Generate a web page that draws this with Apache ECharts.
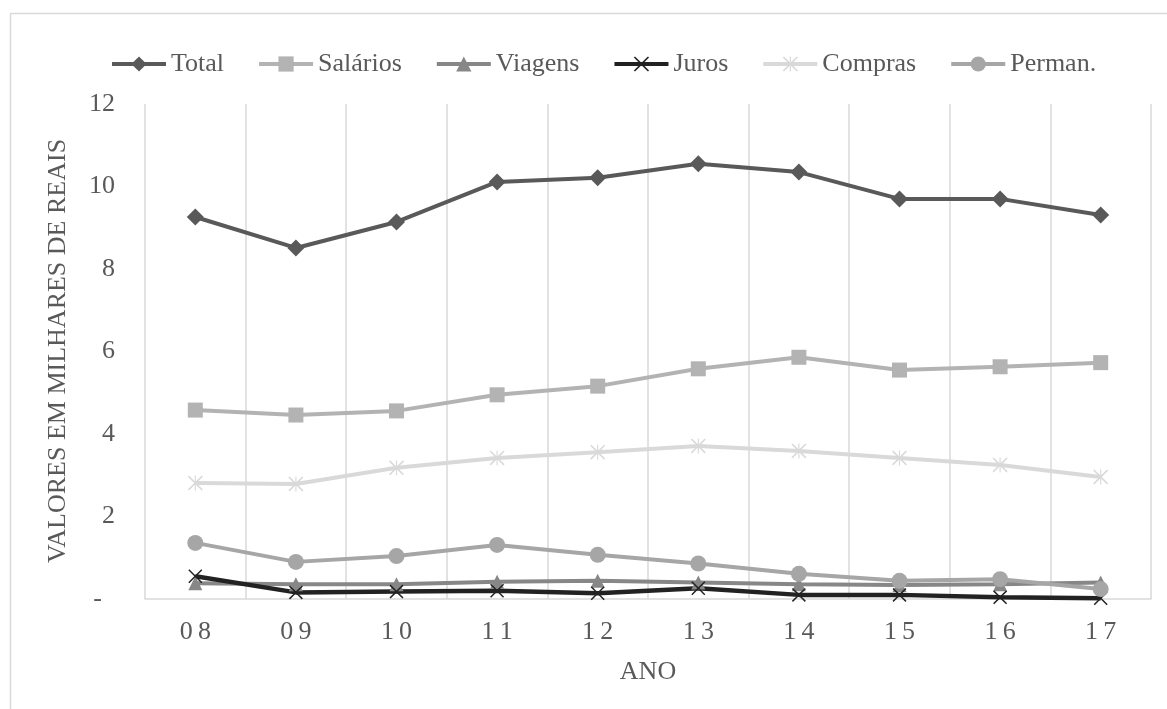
<!DOCTYPE html>
<html>
<head>
<meta charset="utf-8">
<script src="https://cdn.jsdelivr.net/npm/echarts@6/dist/echarts.min.js"></script>
<style>
html,body{margin:0;padding:0;background:#fff;}
#chart{width:1167px;height:709px;}
</style>
</head>
<body>
<div id="chart"></div>
<script>
const categories = ['08','09','10','11','12','13','14','15','16','17'];
const total    = [9.26, 8.51, 9.14, 10.11, 10.21, 10.55, 10.35, 9.70, 9.70, 9.31];
const salarios = [4.58, 4.46, 4.56, 4.95, 5.16, 5.58, 5.86, 5.55, 5.63, 5.73];
const viagens  = [0.38, 0.36, 0.36, 0.42, 0.44, 0.40, 0.36, 0.34, 0.36, 0.40];
const juros    = [0.55, 0.16, 0.18, 0.20, 0.14, 0.26, 0.10, 0.10, 0.04, 0.02];
const compras  = [2.81, 2.79, 3.18, 3.42, 3.56, 3.71, 3.59, 3.42, 3.25, 2.96];
const perman   = [1.36, 0.90, 1.04, 1.31, 1.07, 0.86, 0.61, 0.44, 0.48, 0.24];
const yTicks = [0, 2, 4, 6, 8, 10, 12];
const yTitle = 'VALORES EM MILHARES DE REAIS';

const FONT = '"Liberation Serif", "Times New Roman", serif';
const TXT = '#595959';
const GRID = '#d9d9d9';

const X_PATH = 'path://M0,1.5 L1.5,0 L10,8.5 L18.5,0 L20,1.5 L11.5,10 L20,18.5 L18.5,20 L10,11.5 L1.5,20 L0,18.5 L8.5,10 Z';
const STAR_PATH = 'path://M0,1.5 L1.5,0 L10,8.5 L18.5,0 L20,1.5 L11.5,10 L20,18.5 L18.5,20 L10,11.5 L1.5,20 L0,18.5 L8.5,10 Z M9.25,0 L10.75,0 L10.75,20 L9.25,20 Z';

function mk(name, data, color, symbol, size, width) {
  return {
    name: name, type: 'line', data: data, color: color,
    symbol: symbol, symbolSize: size, showSymbol: true, showAllSymbol: true,
    lineStyle: { color: color, width: width },
    itemStyle: { color: color, borderWidth: 0 },
    emphasis: { disabled: true }
  };
}

const chart = echarts.init(document.getElementById('chart'), null, { renderer: 'canvas' });
chart.setOption({
  animation: false,
  backgroundColor: '#fff',
  textStyle: { fontFamily: FONT, color: TXT },
  graphic: [{
    type: 'rect', silent: true,
    shape: { x: 10.5, y: 13.5, width: 1300, height: 900 },
    style: { fill: 'none', stroke: GRID, lineWidth: 1.5 }
  }, {
    type: 'text', silent: true,
    x: 58, y: 351, rotation: Math.PI / 2,
    style: {
      text: yTitle, fill: TXT,
      font: '26px "Liberation Serif", "Times New Roman", serif',
      align: 'center', verticalAlign: 'middle'
    }
  }],
  legend: {
    left: 105, top: 46,
    itemWidth: 54, itemHeight: 19, itemGap: 33,
    lineStyle: { width: 4 },
    textStyle: { fontFamily: FONT, fontSize: 26, color: TXT },
    data: ['Total','Salários','Viagens','Juros','Compras','Perman.']
  },
  grid: { left: 145, right: 16, top: 104, bottom: 110, containLabel: false },
  xAxis: {
    type: 'category', data: categories, boundaryGap: true,
    name: 'ANO', nameLocation: 'middle', nameGap: 60,
    nameTextStyle: { fontFamily: FONT, fontSize: 26, color: TXT },
    axisLine: { show: true, lineStyle: { color: GRID, width: 1.5 } },
    axisTick: { show: false },
    axisLabel: {
      fontFamily: FONT, fontSize: 26, color: TXT, margin: 20,
      formatter: v => v.split('').join('\u2009')
    },
    splitLine: { show: true, lineStyle: { color: GRID, width: 1.5 } }
  },
  yAxis: {
    type: 'value', min: yTicks[0], max: yTicks[yTicks.length - 1], interval: 2,
    axisLine: { show: false }, axisTick: { show: false },
    splitLine: { show: false },
    axisLabel: {
      fontFamily: FONT, fontSize: 26, color: TXT, margin: 30,
      formatter: v => v === 0 ? '-  ' : String(v)
    }
  },
  series: [
    mk('Total', total, '#595959', 'diamond', 17, 4),
    mk('Salários', salarios, '#b3b3b3', 'rect', 15, 4),
    mk('Viagens', viagens, '#878787', 'triangle', 14, 4),
    mk('Juros', juros, '#222222', X_PATH, 14, 4.5),
    mk('Compras', compras, '#d9d9d9', STAR_PATH, 15, 4),
    mk('Perman.', perman, '#a6a6a6', 'circle', 16, 4)
  ]
});
</script>
</body>
</html>
